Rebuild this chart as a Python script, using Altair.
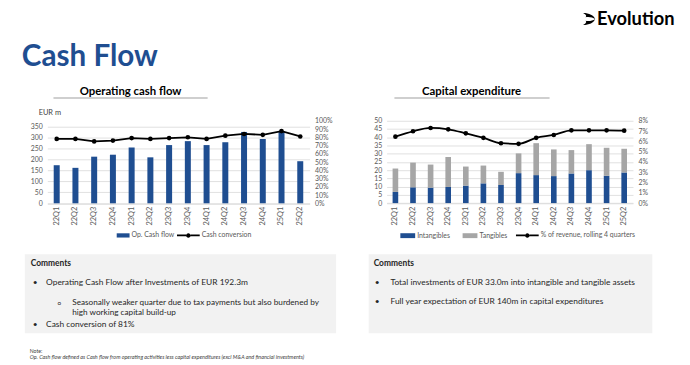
import altair as alt
import pandas as pd

# ---------------- data ----------------
quarters = ["22Q1", "22Q2", "22Q3", "22Q4", "23Q1", "23Q2", "23Q3", "23Q4",
            "24Q1", "24Q2", "24Q3", "24Q4", "25Q1", "25Q2"]
op_cash_flow = [174, 162, 213, 222, 255, 210, 266, 284, 266, 279, 326, 294, 330, 192.3]
cash_conversion = [0.78, 0.78, 0.75, 0.76, 0.79, 0.78, 0.79, 0.80, 0.78, 0.82, 0.84, 0.83, 0.875, 0.81]
intangibles = [6.8, 9.6, 9.4, 9.8, 10.6, 12.0, 11.0, 18.2, 17.0, 16.4, 18.0, 20.0, 16.6, 18.6]
tangibles = [14.2, 15.0, 14.0, 18.2, 11.6, 10.8, 8.0, 12.0, 19.4, 16.2, 14.2, 15.8, 17.0, 14.4]
capex_pct_revenue = [0.0646, 0.0698, 0.0730, 0.0717, 0.0678, 0.0634, 0.0582, 0.0576,
                     0.0634, 0.0662, 0.0707, 0.0707, 0.0707, 0.0704]

ocf_ticks = [0, 50, 100, 150, 200, 250, 300, 350]
conv_ticks = [i / 10 for i in range(11)]
capex_ticks = [0, 5, 10, 15, 20, 25, 30, 35, 40, 45, 50]
pct_ticks = [i / 100 for i in range(9)]

# ---------------- style ----------------
FONT = "Lato"
BLUE = "#1f4e91"
GREY = "#a6a6a6"
TXT = "#595959"
DARK = "#262626"
W, H = 682, 357  # whole page minus the 8px body margin
AX_FS = 7


def P(v):
    """page pixel -> chart pixel"""
    return v - 8


RECT = "M-1,-0.33H1V0.33H-1Z"
LINEDOT = ("M-1,-0.07H-0.2V0.07H-1Z M0.2,-0.07H1V0.07H0.2Z "
           "M0.2,0A0.2,0.2,0,1,1,-0.2,0A0.2,0.2,0,1,1,0.2,0Z")


def legend(x, y, size, shape, pad=10):
    return alt.Legend(orient="none", legendX=P(x), legendY=P(y), direction="horizontal",
                      title=None, symbolType=shape, symbolSize=size, symbolStrokeWidth=0,
                      labelFontSize=7, labelColor=TXT, labelFont=FONT, labelOffset=2,
                      columnPadding=pad, padding=0)


def xaxis():
    return alt.Axis(orient="bottom", offset=P(203.5) - H, labelAngle=270, labelFontSize=7.5,
                    labelColor=TXT, labelPadding=3, ticks=False, domainColor="#d9d9d9",
                    domainWidth=0.8, title=None)


def yaxis(orient, pos, values, fmt=None, grid=False):
    kw = dict(orient=orient, values=values, labelFontSize=AX_FS, labelColor=TXT,
              labelPadding=5, ticks=False, domain=False, grid=grid, gridColor="#d9d9d9",
              gridWidth=0.8, title=None)
    kw["offset"] = -P(pos) if orient == "left" else P(pos) - W
    if fmt:
        kw["format"] = fmt
    return alt.Axis(**kw)


# ---------------- left chart: operating cash flow ----------------
left_df = pd.DataFrame({"q": quarters, "ocf": op_cash_flow, "conv": cash_conversion,
                        "s1": "Op. Cash flow", "s2": "Cash conversion"})
xl = alt.X("q:N", sort=quarters,
           scale=alt.Scale(range=[P(47.8), P(313.2)], paddingInner=0.68, paddingOuter=0.34),
           axis=xaxis())
yl_range = [P(203.5), P(120)]
bars_l = alt.Chart(left_df).mark_bar().encode(
    x=xl,
    y=alt.Y("ocf:Q", scale=alt.Scale(domain=[0, 377], range=yl_range, nice=False),
            axis=yaxis("left", 47.8, ocf_ticks, grid=True)),
    color=alt.Color("s1:N", scale=alt.Scale(range=[BLUE]),
                    legend=legend(118, 236 - 6.5, 169, RECT)),
)
conv_axis = yaxis("right", 313.2, conv_ticks, fmt=".0%")
yc = alt.Y("conv:Q", scale=alt.Scale(domain=[0, 1], range=yl_range, nice=False), axis=conv_axis)
line_l = alt.Chart(left_df).mark_line(color="black", strokeWidth=1.8).encode(x=xl, y=yc)
pts_l = alt.Chart(left_df).mark_point(filled=True, size=22, opacity=1).encode(
    x=xl, y=yc,
    color=alt.Color("s2:N", scale=alt.Scale(range=["black"]),
                    legend=legend(179, 236 - 11.5, 529, LINEDOT)),
)
left = alt.layer(bars_l, alt.layer(line_l, pts_l)).resolve_scale(y="independent",
                                                                 color="independent")

# ---------------- right chart: capital expenditure ----------------
rows = []
for i, q in enumerate(quarters):
    rows.append({"q": q, "type": "Intangibles", "v": intangibles[i], "k": 0})
    rows.append({"q": q, "type": "Tangibles", "v": tangibles[i], "k": 1})
capex_df = pd.DataFrame(rows)
pct_df = pd.DataFrame({"q": quarters, "p": capex_pct_revenue,
                       "s": "% of revenue, rolling 4 quarters"})
xr = alt.X("q:N", sort=quarters,
           scale=alt.Scale(range=[P(391.1), P(640.4)], paddingInner=0.68, paddingOuter=0.34),
           axis=xaxis())
yr_range = [P(203.3), P(120)]
bars_r = alt.Chart(capex_df).mark_bar().encode(
    x=xr,
    y=alt.Y("sum(v):Q", stack="zero",
            scale=alt.Scale(domain=[0, 50], range=yr_range, nice=False),
            axis=yaxis("left", 391.1, capex_ticks, grid=True)),
    color=alt.Color("type:N", scale=alt.Scale(domain=["Intangibles", "Tangibles"],
                                              range=[BLUE, GREY]),
                    legend=legend(405, 236 - 7.5, 225, RECT, pad=12)),
    order=alt.Order("k:Q"),
)
pct_axis = yaxis("right", 640.4, pct_ticks, fmt=".0%")
yp = alt.Y("p:Q", scale=alt.Scale(domain=[0, 0.08], range=yr_range, nice=False), axis=pct_axis)
line_r = alt.Chart(pct_df).mark_line(color="black", strokeWidth=1.8,
                                     interpolate="monotone").encode(x=xr, y=yp)
pts_r = alt.Chart(pct_df).mark_point(filled=True, size=22, opacity=1).encode(
    x=xr, y=yp,
    color=alt.Color("s:N", scale=alt.Scale(range=["black"]),
                    legend=legend(522, 236 - 11.5, 529, LINEDOT)),
)
right = alt.layer(bars_r, alt.layer(line_r, pts_r)).resolve_scale(y="independent",
                                                                  color="independent")


# ---------------- slide decorations ----------------
def txt(s, x, y, size, weight="normal", color=DARK, align="left", style="normal",
        baseline="middle", font=FONT):
    return alt.Chart(pd.DataFrame({"t": [s]})).mark_text(
        align=align, baseline=baseline, fontSize=size, fontWeight=weight, color=color,
        fontStyle=style, font=font).encode(text="t:N", x=alt.value(P(x)), y=alt.value(P(y)))


def box(x1, y1, x2, y2, color):
    return alt.Chart(pd.DataFrame({"a": [0]})).mark_rect(color=color).encode(
        x=alt.value(P(x1)), x2=alt.value(P(x2)), y=alt.value(P(y1)), y2=alt.value(P(y2)))


def hline(x1, x2, y, color, w):
    return alt.Chart(pd.DataFrame({"a": [0]})).mark_rule(color=color, strokeWidth=w).encode(
        x=alt.value(P(x1)), x2=alt.value(P(x2)), y=alt.value(P(y)))


logo = alt.Chart(pd.DataFrame({"a": [0]})).mark_point(
    shape="M-1,-1C0,-1 0.8,-0.6 1,0C0.6,-0.3 0,-0.4 -0.6,-0.3C-0.3,-0.5 -0.6,-0.8 -1,-1Z"
          "M-1,1C0,1 0.8,0.6 1,0C0.6,0.3 0,0.4 -0.6,0.3C-0.3,0.5 -0.6,0.8 -1,1Z",
    filled=True, color="black", opacity=1, size=150).encode(
    x=alt.value(P(596)), y=alt.value(P(17)))

deco = [
    box(25, 255, 340, 335, "#f2f2f2"),
    box(373, 255, 660, 335, "#f2f2f2"),
    hline(54, 210, 97, "#bfbfbf", 1.5),
    hline(399, 556, 97, "#bfbfbf", 1.5),
    logo,
    txt("Evolution", 604, 17.5, 18.5, weight="bold", color="black"),
    txt("Cash Flow", 22, 65, 30, weight="bold", color=BLUE, baseline="alphabetic"),
    txt("Operating cash flow", 132, 94, 11.5, weight="bold", color="black",
        align="center", baseline="alphabetic"),
    txt("Capital expenditure", 477, 94, 11.5, weight="bold", color="black",
        align="center", baseline="alphabetic"),
    txt("EUR m", 39, 112, 7.5, color="#404040"),
    txt("Comments", 31, 263.5, 8.5, weight="bold"),
    txt("•", 33, 283, 8.5),
    txt("Operating Cash Flow after Investments of EUR 192.3m", 46.5, 283, 8.5),
    txt("o", 58, 304.5, 6.5),
    txt("Seasonally weaker quarter due to tax payments but also burdened by", 73, 304.5, 8.3),
    txt("high working capital build-up", 73, 315, 8.3),
    txt("•", 33, 326, 8.5),
    txt("Cash conversion of 81%", 46.5, 326, 8.5),
    txt("Comments", 378, 263.5, 8.5, weight="bold"),
    txt("•", 379, 283, 8.5),
    txt("Total investments of EUR 33.0m into intangible and tangible assets", 395, 283, 8.5),
    txt("•", 379, 302, 8.5),
    txt("Full year expectation of EUR 140m in capital expenditures", 395, 302, 8.5),
    txt("Note:", 30, 352.5, 5.2, color="#404040"),
    txt("Op. Cash flow defined as Cash flow from operating activities less capital "
        "expenditures (excl M&A and financial investments)", 30, 359, 5.5,
        color="#404040", style="italic"),
]

chart = alt.layer(*deco, left, right).resolve_scale(
    x="independent", y="independent", color="independent"
).properties(
    width=W, height=H, padding=0, autosize=alt.AutoSizeParams(type="none")
).configure_view(stroke=None).configure_axis(labelFont=FONT).configure_legend(labelFont=FONT)

chart.save("out.html", embed_options={"renderer": "svg", "actions": False})
